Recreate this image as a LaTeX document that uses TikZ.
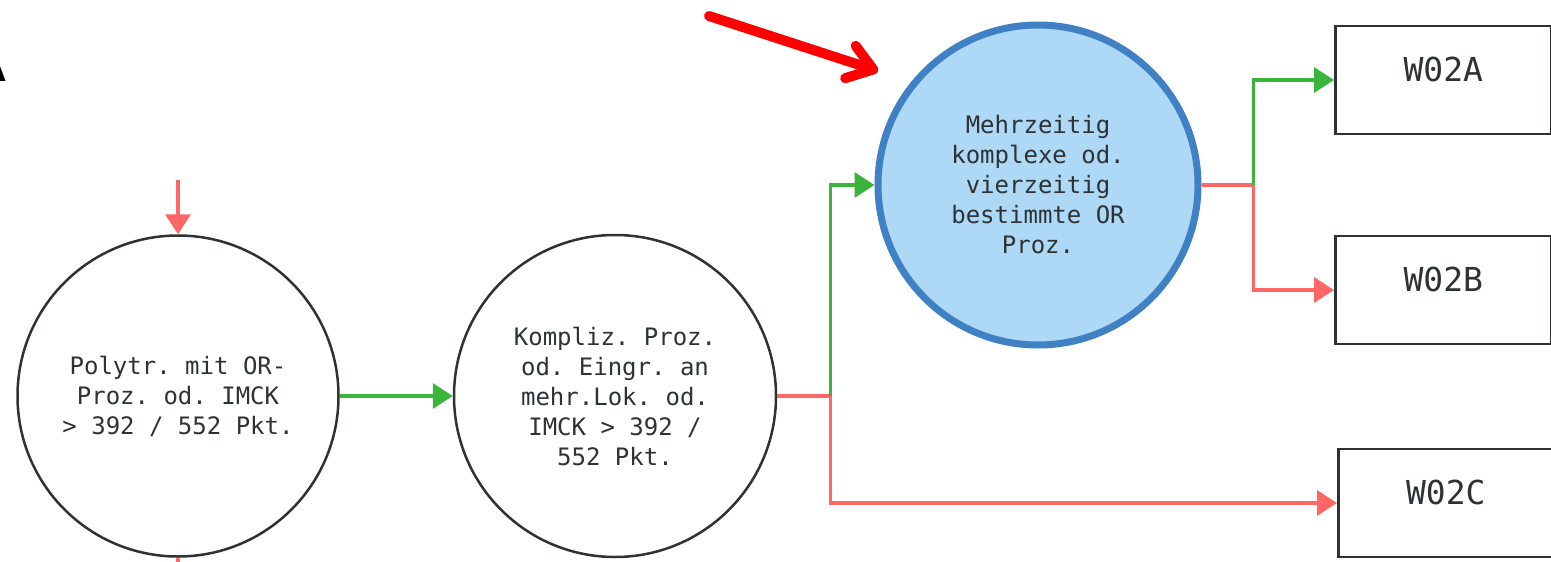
\documentclass[tikz,border=0pt]{standalone}
\usepackage{fontspec}
\setmonofont{DejaVu Sans Mono}
\setsansfont{DejaVu Sans}
\usetikzlibrary{arrows.meta}
\definecolor{yesgreen}{RGB}{58,180,58}
\definecolor{nored}{RGB}{255,102,102}
\definecolor{ringblue}{RGB}{64,128,196}
\definecolor{ringfill}{RGB}{173,216,246}
\definecolor{inkgray}{RGB}{45,50,52}
\begin{document}
\begin{tikzpicture}[x=1pt,y=-1pt,
		test/.style={circle,draw=inkgray,line width=2.5pt,minimum size=321pt,inner sep=0pt,align=center,text=inkgray,font=\ttfamily\frenchspacing\fontsize{24}{30}\selectfont},
		active/.style={test,draw=ringblue,fill=ringfill,line width=7pt,minimum size=320pt},
		result/.style={rectangle,draw=inkgray,line width=2.5pt,minimum width=216pt,inner sep=0pt,text height=55pt,text depth=53pt,text=inkgray,font=\ttfamily\fontsize{33}{40}\selectfont},
		yes/.style={draw=yesgreen,line width=3.5pt,-{Triangle[length=20pt,width=25pt]}},
		no/.style={draw=nored,line width=3.5pt,-{Triangle[length=20pt,width=25pt]}}]
	\useasboundingbox (0,0) rectangle (1551,562);
	
	\node[anchor=base east,inner sep=0pt,font=\sffamily\bfseries\fontsize{30}{30}\selectfont] (tag) at (6,81) {A};
	
	\node[test] (c1) at (178,396) {Polytr. mit OR-\\Proz. od. IMCK~\\> 392 / 552 Pkt.};
	\node[test,minimum size=322pt] (c2) at (615,396) {Kompliz. Proz.\\od. Eingr. an\\mehr.Lok. od.\\IMCK > 392 /\\552 Pkt.};
	\node[active] (c3) at (1038,185) {Mehrzeitig\\komplexe od.\\vierzeitig\\bestimmte OR\\Proz.};
	
	\node[result,anchor=west] (w02a) at (1334,80) {W02A};
	\node[result,anchor=west] (w02b) at (1334,290) {W02B};
	\node[result,anchor=west,minimum width=215pt] (w02c) at (1337,503) {W02C};
	
	\coordinate (entry) at (178,180);
	\coordinate (exit) at (178,580);
	\draw[no] (entry) -- (c1.north);
	\draw[nored,line width=3.5pt] (c1.south) -- (exit);
	
	\draw[yes] (c1.east) -- (c2.west);
	
	\draw[no] (c2.east) -- ++(53,0) coordinate (fork2) |- (w02c.west);
	\draw[yes] (fork2) |- (c3.west);
	
	\draw[no] (c3.east) -- ++(52,0) coordinate (fork3) |- (w02b.west);
	\draw[yes] (fork3) |- (w02a.west);
	
	\coordinate (pointer) at (709,16);
	\coordinate (aim) at (878,71);
	\draw[red,line width=10pt,line cap=round,-{Straight Barb[length=24pt,width=34pt,round]}] (pointer) -- (aim);
	
\end{tikzpicture}
\end{document}
